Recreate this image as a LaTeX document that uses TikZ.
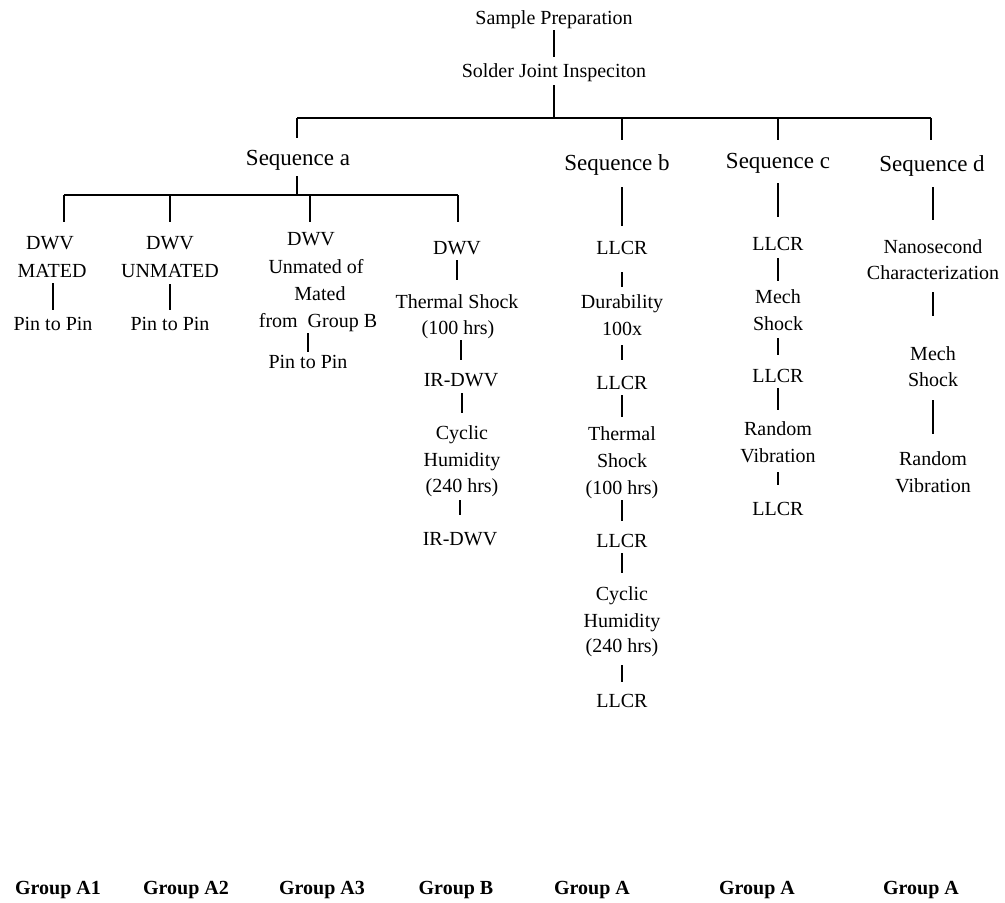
\documentclass[tikz,border=0pt]{standalone}
\usepackage{fontspec}
\setmainfont{Liberation Serif}
\newcommand\vlk[4]{\draw[ln, shorten <=#3, shorten >=#4] (#2.north |- #1.south) -- (#2.north);}
\begin{document}
\begin{tikzpicture}[x=0.5pt,y=-0.5pt,
  txt/.style={anchor=base, inner sep=0pt, text height=7pt, text depth=2.5pt, font=\fontsize{10}{12}\selectfont},
  seq/.style={txt, font=\fontsize{11.5}{13}\selectfont},
  grp/.style={txt, font=\fontsize{10}{12}\selectfont\bfseries},
  ln/.style={line width=0.55pt, black}]
\path[use as bounding box, fill=white] (0,0) rectangle (1005,902);

% top
\node[txt] (sp) at (554,24) {Sample Preparation};
\node[txt] (sji) at (554,77) {Solder Joint Inspeciton};
\coordinate (j0) at (554,118);
\coordinate (ja) at (297,118);
\coordinate (jb) at (622,118);
\coordinate (jc) at (778,118);
\coordinate (jd) at (931,118);

\node[seq] (sa) at (298,165) {Sequence a};
\node[seq] (sb) at (617,170) {Sequence b};
\node[seq] (sc) at (778,168) {Sequence c};
\node[seq] (sd) at (932,171) {Sequence d};

\vlk{sp}{sji}{0.5pt}{3pt}
\draw[ln, shorten <=1.5pt] (sji.south) -- (j0);
\draw[ln] (ja) -- (jd);
\draw[ln, shorten >=6.5pt] (ja) -- (sa.north -| ja);
\draw[ln, shorten >=8pt] (jb) -- (sb.north -| jb);
\draw[ln, shorten >=7pt] (jc) -- (sc.north -| jc);
\draw[ln, shorten >=8.5pt] (jd) -- (sd.north -| jd);

% sequence a
\coordinate (ka) at (297,195);
\coordinate (d1) at (64,222);
\coordinate (d2) at (170,222);
\coordinate (d3) at (310,222);
\coordinate (d4) at (458,222);
\draw[ln, shorten <=3pt] (sa.south -| ka) -- (ka);
\draw[ln] (d1 |- ka) -- (d4 |- ka);
\draw[ln] (d1 |- ka) -- (d1);
\draw[ln] (d2 |- ka) -- (d2);
\draw[ln] (d3 |- ka) -- (d3);
\draw[ln] (d4 |- ka) -- (d4);

% group A1
\node[txt] (a1d) at (50,249) {DWV};
\node[txt] (a1m) at (52,277) {MATED};
\node[txt] (a1p) at (53,330) {Pin to Pin};
\vlk{a1m}{a1p}{0.5pt}{3pt}

% group A2
\node[txt] (a2d) at (170,249) {DWV};
\node[txt] (a2m) at (170,277) {UNMATED};
\node[txt] (a2p) at (170,330) {Pin to Pin};
\vlk{a2m}{a2p}{1pt}{3pt}

% group A3
\node[txt] (a3d) at (311,245) {DWV};
\node[txt] (a3u) at (316,273) {Unmated of};
\node[txt] (a3m) at (320,300) {Mated};
\node[txt] (a3f) at (318,327) {from\ \ Group B};
\node[txt] (a3p) at (308,368) {Pin to Pin};
\vlk{a3f}{a3p}{0.5pt}{1pt}

% group B
\node[txt] (bd) at (457,254) {DWV};
\node[txt] (bt1) at (457,308) {Thermal Shock};
\node[txt] (bt2) at (458,334) {(100 hrs)};
\node[txt] (bi1) at (461,386) {IR-DWV};
\node[txt] (bc1) at (462,439) {Cyclic};
\node[txt] (bc2) at (462,466) {Humidity};
\node[txt] (bc3) at (462,492) {(240 hrs)};
\node[txt] (bi2) at (460,545) {IR-DWV};
\vlk{bd}{bt1}{0.5pt}{7pt}
\vlk{bt2}{bi1}{0.5pt}{6pt}
\vlk{bi1}{bc1}{1pt}{6pt}
\vlk{bc3}{bi2}{1.5pt}{8pt}

% sequence b
\node[txt] (lb1) at (622,254) {LLCR};
\node[txt] (bdu1) at (622,308) {Durability};
\node[txt] (bdu2) at (622,335) {100x};
\node[txt] (lb2) at (622,389) {LLCR};
\node[txt] (bth1) at (622,440) {Thermal};
\node[txt] (bth2) at (622,467) {Shock};
\node[txt] (bth3) at (622,494) {(100 hrs)};
\node[txt] (lb3) at (622,547) {LLCR};
\node[txt] (bcy1) at (622,600) {Cyclic};
\node[txt] (bcy2) at (622,627) {Humidity};
\node[txt] (bcy3) at (622,652) {(240 hrs)};
\node[txt] (lb4) at (622,707) {LLCR};
\vlk{sb}{lb1}{6pt}{7pt}
\vlk{lb1}{bdu1}{6.5pt}{3.5pt}
\vlk{bdu2}{lb2}{2.5pt}{7.5pt}
\vlk{lb2}{bth1}{0.5pt}{4.5pt}
\vlk{bth3}{lb3}{0.5pt}{6pt}
\vlk{lb3}{bcy1}{0.5pt}{6.5pt}
\vlk{bcy3}{lb4}{4pt}{5.5pt}

% sequence c
\node[txt] (lc1) at (778,250) {LLCR};
\node[txt] (cm1) at (778,303) {Mech};
\node[txt] (cm2) at (778,330) {Shock};
\node[txt] (lc2) at (778,382) {LLCR};
\node[txt] (cr1) at (778,435) {Random};
\node[txt] (cr2) at (778,462) {Vibration};
\node[txt] (lc3) at (778,515) {LLCR};
\vlk{sc}{lc1}{5pt}{9.5pt}
\vlk{lc1}{cm1}{1.5pt}{4pt}
\vlk{cm2}{lc2}{1.5pt}{6.5pt}
\vlk{lc2}{cr1}{0.5pt}{5.5pt}
\vlk{cr2}{lc3}{2.5pt}{8pt}

% sequence d
\node[txt] (dn1) at (933,253) {Nanosecond};
\node[txt] (dn2) at (933,279) {Characterization};
\node[txt] (dm1) at (933,360) {Mech};
\node[txt] (dm2) at (933,386) {Shock};
\node[txt] (dr1) at (933,465) {Random};
\node[txt] (dr2) at (933,492) {Vibration};
\vlk{sd}{dn1}{5.5pt}{9.5pt}
\vlk{dn2}{dm1}{4pt}{15pt}
\vlk{dm2}{dr1}{4.5pt}{8.5pt}

% groups
\node[grp] (g1) at (58,894) {Group A1};
\node[grp] (g2) at (186,894) {Group A2};
\node[grp] (g3) at (322,894) {Group A3};
\node[grp] (g4) at (456,894) {Group B};
\node[grp] (g5) at (592,894) {Group A};
\node[grp] (g6) at (757,894) {Group A};
\node[grp] (g7) at (921,894) {Group A};
\end{tikzpicture}
\end{document}
